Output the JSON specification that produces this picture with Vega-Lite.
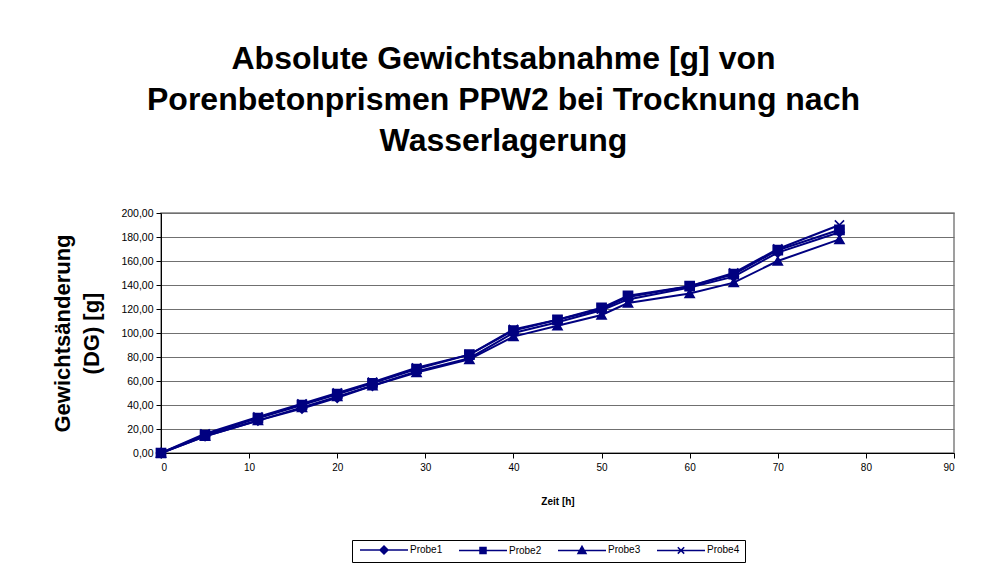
{
  "$schema": "https://vega.github.io/schema/vega-lite/v6.json",
  "autosize": {"type": "none"},
  "width": 793,
  "height": 240,
  "padding": {"left": 161, "top": 213, "right": 27, "bottom": 126},
  "background": "white",
  "title": {
    "text": ["Absolute Gewichtsabnahme [g] von", "Porenbetonprismen PPW2 bei Trocknung nach", "Wasserlagerung"],
    "font": "Liberation Sans",
    "fontSize": 32,
    "fontWeight": "bold",
    "color": "black",
    "lineHeight": 41,
    "anchor": "middle",
    "dx": -54,
    "offset": 50
  },
  "data": {
    "values": [
      {"t": 0, "probe": "Probe1", "v": 0}, {"t": 5, "probe": "Probe1", "v": 14}, {"t": 11, "probe": "Probe1", "v": 27}, {"t": 16, "probe": "Probe1", "v": 37}, {"t": 20, "probe": "Probe1", "v": 46}, {"t": 24, "probe": "Probe1", "v": 56}, {"t": 29, "probe": "Probe1", "v": 68}, {"t": 35, "probe": "Probe1", "v": 79}, {"t": 40, "probe": "Probe1", "v": 100}, {"t": 45, "probe": "Probe1", "v": 109}, {"t": 50, "probe": "Probe1", "v": 119}, {"t": 53, "probe": "Probe1", "v": 128}, {"t": 60, "probe": "Probe1", "v": 138}, {"t": 65, "probe": "Probe1", "v": 147}, {"t": 70, "probe": "Probe1", "v": 167}, {"t": 77, "probe": "Probe1", "v": 184},
      {"t": 0, "probe": "Probe2", "v": 0}, {"t": 5, "probe": "Probe2", "v": 15}, {"t": 11, "probe": "Probe2", "v": 29}, {"t": 16, "probe": "Probe2", "v": 40}, {"t": 20, "probe": "Probe2", "v": 49}, {"t": 24, "probe": "Probe2", "v": 58}, {"t": 29, "probe": "Probe2", "v": 70}, {"t": 35, "probe": "Probe2", "v": 82}, {"t": 40, "probe": "Probe2", "v": 102}, {"t": 45, "probe": "Probe2", "v": 111}, {"t": 50, "probe": "Probe2", "v": 121}, {"t": 53, "probe": "Probe2", "v": 131}, {"t": 60, "probe": "Probe2", "v": 139}, {"t": 65, "probe": "Probe2", "v": 149}, {"t": 70, "probe": "Probe2", "v": 169}, {"t": 77, "probe": "Probe2", "v": 186},
      {"t": 0, "probe": "Probe3", "v": 0}, {"t": 5, "probe": "Probe3", "v": 14}, {"t": 11, "probe": "Probe3", "v": 27}, {"t": 16, "probe": "Probe3", "v": 38}, {"t": 20, "probe": "Probe3", "v": 47}, {"t": 24, "probe": "Probe3", "v": 56}, {"t": 29, "probe": "Probe3", "v": 67}, {"t": 35, "probe": "Probe3", "v": 78}, {"t": 40, "probe": "Probe3", "v": 97}, {"t": 45, "probe": "Probe3", "v": 106}, {"t": 50, "probe": "Probe3", "v": 115}, {"t": 53, "probe": "Probe3", "v": 125}, {"t": 60, "probe": "Probe3", "v": 133}, {"t": 65, "probe": "Probe3", "v": 142}, {"t": 70, "probe": "Probe3", "v": 160}, {"t": 77, "probe": "Probe3", "v": 178},
      {"t": 0, "probe": "Probe4", "v": 0}, {"t": 5, "probe": "Probe4", "v": 16}, {"t": 11, "probe": "Probe4", "v": 30}, {"t": 16, "probe": "Probe4", "v": 41}, {"t": 20, "probe": "Probe4", "v": 50}, {"t": 24, "probe": "Probe4", "v": 59}, {"t": 29, "probe": "Probe4", "v": 71}, {"t": 35, "probe": "Probe4", "v": 82}, {"t": 40, "probe": "Probe4", "v": 103}, {"t": 45, "probe": "Probe4", "v": 111}, {"t": 50, "probe": "Probe4", "v": 120}, {"t": 53, "probe": "Probe4", "v": 130}, {"t": 60, "probe": "Probe4", "v": 139}, {"t": 65, "probe": "Probe4", "v": 150}, {"t": 70, "probe": "Probe4", "v": 170}, {"t": 77, "probe": "Probe4", "v": 190}
    ]
  },
  "encoding": {
    "x": {
      "field": "t", "type": "quantitative",
      "scale": {"domain": [0, 90], "nice": false},
      "axis": {
        "title": "Zeit [h]", "values": [0,10,20,30,40,50,60,70,80,90],
        "grid": false, "domainColor": "black", "tickColor": "black", "tickSize": 5,
        "labelFont": "Liberation Sans", "labelFontSize": 10, "labelColor": "black", "labelPadding": 4,
        "titleFont": "Liberation Sans", "titleFontSize": 10, "titleFontWeight": "bold", "titleColor": "black", "titlePadding": 24
      }
    },
    "y": {
      "field": "v", "type": "quantitative",
      "scale": {"domain": [0, 200], "nice": false},
      "axis": {
        "title": ["Gewichtsänderung", "(DG) [g]"], "values": [0,20,40,60,80,100,120,140,160,180,200],
        "labelExpr": "replace(format(datum.value, '.2f'), '.', ',')",
        "grid": true, "gridColor": "#707070", "gridWidth": 1,
        "domainColor": "black", "tickColor": "black", "tickSize": 5,
        "labelFont": "Liberation Sans", "labelFontSize": 10.5, "labelColor": "black", "labelPadding": 3,
        "titleFont": "Liberation Sans", "titleFontSize": 22, "titleFontWeight": "bold", "titleColor": "black",
        "titleLineHeight": 29, "titlePadding": 17
      }
    }
  },
  "layer": [
    {
      "mark": {"type": "line", "color": "#000080", "strokeWidth": 2},
      "encoding": {"detail": {"field": "probe", "type": "nominal"}}
    },
    {
      "mark": {"type": "point", "filled": true, "color": "#000080", "stroke": "#000080", "strokeWidth": 1.5, "size": 85, "opacity": 1},
      "encoding": {
        "shape": {
          "field": "probe", "type": "nominal",
          "scale": {"domain": ["Probe1", "Probe2", "Probe3", "Probe4"], "range": ["diamond", "square", "triangle-up", "M-1,-1L1,1M-1,1L1,-1"]},
          "legend": null
        }
      }
    },
    {
      "mark": {"type": "point", "filled": false, "color": "#000080", "strokeWidth": 1.5, "size": 0, "opacity": 0},
      "encoding": {
        "shape": {
          "field": "probe", "type": "nominal",
          "scale": {"domain": ["Probe1", "Probe2", "Probe3", "Probe4"], "range": [
            "M-6,0L6,0M-1,0L0,-1L1,0L0,1ZM-0.65,0L0,-0.65L0.65,0L0,0.65ZM-0.3,0L0,-0.3L0.3,0L0,0.3Z",
            "M-6,0L6,0M-0.75,-0.75L0.75,-0.75L0.75,0.75L-0.75,0.75ZM-0.45,-0.45L0.45,-0.45L0.45,0.45L-0.45,0.45ZM-0.15,-0.15L0.15,-0.15L0.15,0.15L-0.15,0.15Z",
            "M-6,0L6,0M0,-1L1,0.8L-1,0.8ZM0,-0.52L0.6,0.68L-0.6,0.68ZM0,-0.1L0.25,0.4L-0.25,0.4Z",
            "M-6,0L6,0M-0.8,-0.8L0.8,0.8M-0.8,0.8L0.8,-0.8"
          ]},
          "legend": {
            "title": null, "orient": "none", "direction": "horizontal",
            "legendX": 191, "legendY": 327,
            "strokeColor": "black", "padding": 5, "fillColor": "white",
            "labelFont": "Liberation Sans", "labelFontSize": 10, "labelColor": "black", "labelOffset": 21,
            "symbolStrokeColor": "#000080", "symbolStrokeWidth": 1.5,
            "symbolSize": 64, "symbolOpacity": 1, "symbolOffset": 22,
            "columnPadding": 13
          }
        }
      }
    }
  ],
  "resolve": {"scale": {"shape": "independent"}},
  "config": {
    "view": {"stroke": "#808080", "strokeWidth": 1.5},
    "font": "Liberation Sans"
  }
}
